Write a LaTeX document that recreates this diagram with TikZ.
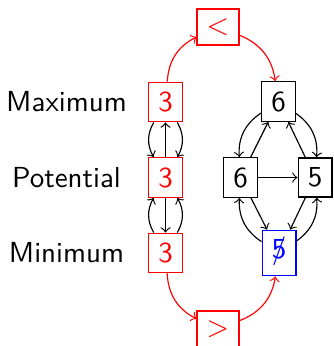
\documentclass[tikz,border=0pt]{standalone}
\usepackage{tikz}
\begin{document}
\begin{tikzpicture}[x=0.345pt,y=-0.345pt, font=\sffamily,
  box/.style={draw, rectangle},
  redbox/.style={box, draw=red, text=red},
  bluebox/.style={box, draw=blue, text=blue},
  lab/.style={},
  conn/.style={->},
  redconn/.style={->, red}]
\useasboundingbox (0,0) rectangle (333,346);
% labels
\node[lab] (maxL) at (66.5,102) {Maximum};
\node[lab] (potL) at (66.5,177.5) {Potential};
\node[lab] (minL) at (66.5,253) {Minimum};
% left column
\node[redbox] (m3) at (165.5,102) {3};
\node[redbox] (p3) at (165.5,177.5) {3};
\node[redbox] (n3) at (165.5,253) {3};
% comparison boxes
\node[redbox] (lt) at (218,27) {$<$};
\node[redbox] (gt) at (218,329) {$>$};
% right diamond
\node[box] (t6) at (278.5,101.5) {6};
\node[box] (l6) at (240.5,177.5) {6};
\node[box] (r5) at (315,177.5) {5};
\node[bluebox] (b5) at (279,253) {\ooalign{5\cr\hidewidth$/$\hidewidth}};
% left column connectors
\draw[conn] (m3) to[bend right] (p3);
\draw[conn] (m3) to[bend left] (p3);
\draw[conn] (p3) -- (m3);
\draw[conn] (n3) to[bend left] (p3);
\draw[conn] (n3) to[bend right] (p3);
\draw[conn] (p3) -- (n3);
% right connectors
\draw[conn] (t6) to[bend right] (l6);
\draw[conn] (t6) to[bend left] (r5);
\draw[conn] (l6) -- (t6);
\draw[conn] (r5) -- (t6);
\draw[conn] (l6) -- (r5);
\draw[conn] (l6) -- (b5);
\draw[conn] (r5) -- (b5);
\draw[conn] (b5) to[bend left] (l6);
\draw[conn] (b5) to[bend right] (r5);
% red connectors
\draw[redconn] (m3) to[bend left] (lt);
\draw[redconn] (lt) to[bend left] (t6);
\draw[redconn] (n3) to[bend right] (gt);
\draw[redconn] (gt) to[bend right] (b5);
\end{tikzpicture}
\end{document}
